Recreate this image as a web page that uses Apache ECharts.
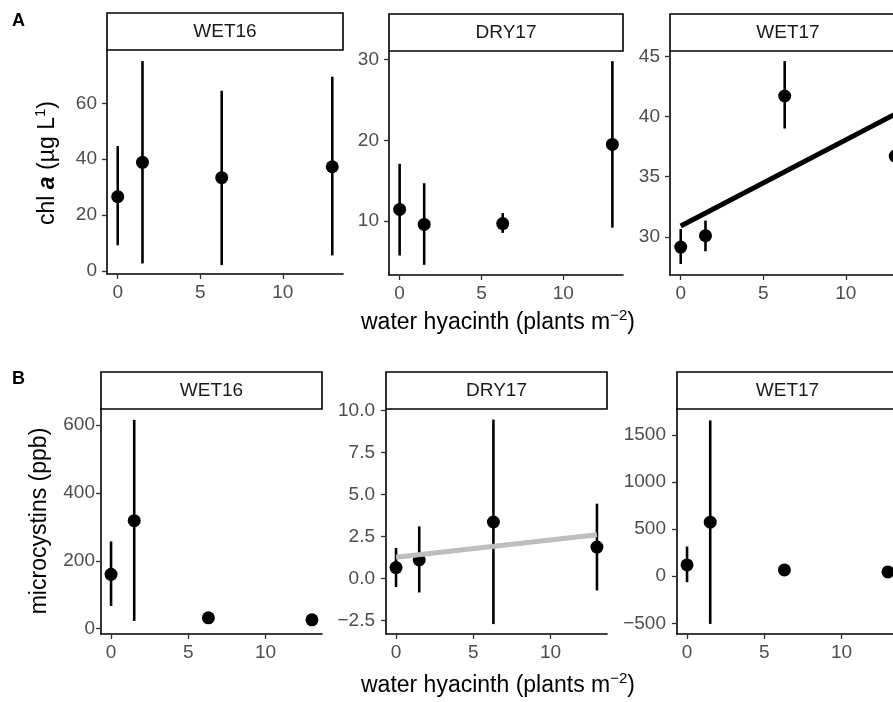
<!DOCTYPE html>
<html>
<head>
<meta charset="utf-8">
<script src="https://cdn.jsdelivr.net/npm/echarts@6/dist/echarts.min.js"></script>
<style>
  html, body { margin: 0; padding: 0; background: #fff; }
  #chart { width: 893px; height: 702px; }
</style>
</head>
<body>
<div id="chart"></div>
<script>
// water hyacinth density (plants m-2)
var xVals = [0, 1.5, 6.3, 13];
var fitX = [0, 13];
var seasons = ['WET16', 'DRY17', 'WET17'];

// A: chl a (ug/L) mean, lower and upper bar ends
var chlWet16Mean = [26.6, 38.9, 33.4, 37.3];
var chlWet16Lo = [9.2, 2.7, 2.1, 5.6];
var chlWet16Hi = [44.7, 75.1, 64.5, 69.5];
var chlDry17Mean = [11.45, 9.6, 9.7, 19.5];
var chlDry17Lo = [5.75, 4.6, 8.55, 9.2];
var chlDry17Hi = [17.1, 14.7, 11.0, 29.8];
var chlWet17Mean = [29.15, 30.1, 41.7, 36.7];
var chlWet17Lo = [27.74, 28.8, 39.0, 30.6];
var chlWet17Hi = [30.64, 31.35, 44.6, 42.8];
var chlWet17Fit = [30.9, 40.2];

// B: microcystins (ppb)
var mcWet16Mean = [160, 318, 32, 26];
var mcWet16Lo = [67, 23, 26, 20];
var mcWet16Hi = [257, 615, 38, 32];
var mcDry17Mean = [0.65, 1.11, 3.36, 1.87];
var mcDry17Lo = [-0.51, -0.83, -2.71, -0.71];
var mcDry17Hi = [1.81, 3.1, 9.45, 4.45];
var mcDry17Fit = [1.27, 2.6];
var mcWet17Mean = [120, 574, 67, 45];
var mcWet17Lo = [-64, -507, 50, 30];
var mcWet17Hi = [315, 1655, 85, 60];

// tick labels
var xTicks = [0, 5, 10];
var yTicksA = [[0, 20, 40, 60], [10, 20, 30], [30, 35, 40, 45]];
var yTicksB = [[0, 200, 400, 600], [-2.5, 0, 2.5, 5, 7.5, 10], [-500, 0, 500, 1000, 1500]];

var FONT = "'Liberation Sans', Arial, Helvetica, sans-serif";

var panels = [
  { left: 107, top: 50, width: 236, height: 224, ymin: -1.07, ymax: 79.07, ticks: yTicksA[0], mean: chlWet16Mean, lo: chlWet16Lo, hi: chlWet16Hi, margin: 10 },
  { left: 389, top: 51, width: 234, height: 224, ymin: 3.34, ymax: 31.06, ticks: yTicksA[1], mean: chlDry17Mean, lo: chlDry17Lo, hi: chlDry17Hi, margin: 10 },
  { left: 670, top: 51, width: 236, height: 224, ymin: 26.83, ymax: 45.44, ticks: yTicksA[2], mean: chlWet17Mean, lo: chlWet17Lo, hi: chlWet17Hi, fit: chlWet17Fit, fitColor: '#000', margin: 10 },
  { left: 101, top: 409, width: 221, height: 225, ymin: -15.6, ymax: 647, ticks: yTicksB[0], mean: mcWet16Mean, lo: mcWet16Lo, hi: mcWet16Hi, margin: 6 },
  { left: 386, top: 409, width: 221, height: 225, ymin: -3.3, ymax: 10.08, ticks: yTicksB[1], mean: mcDry17Mean, lo: mcDry17Lo, hi: mcDry17Hi, fit: mcDry17Fit, fitColor: '#bebebe', margin: 11, dec: 1 },
  { left: 677, top: 409, width: 221, height: 225, ymin: -614, ymax: 1776, ticks: yTicksB[2], mean: mcWet17Mean, lo: mcWet17Lo, hi: mcWet17Hi, margin: 11 }
];

function fmt(dec) {
  return function (v) {
    var s = dec ? Number(v).toFixed(dec) : String(v);
    return s.replace('-', '\u2212');
  };
}

var grids = [], xAxes = [], yAxes = [], series = [], graphics = [];

panels.forEach(function (p, i) {
  grids.push({ left: p.left, top: p.top, width: p.width, height: p.height, outerBoundsMode: 'none' });
  xAxes.push({
    type: 'value', gridIndex: i, min: -0.65, max: 13.65,
    axisLine: { show: true, onZero: false, lineStyle: { color: '#000', width: 1.6 } },
    axisTick: { show: true, length: 5, customValues: xTicks, lineStyle: { color: '#333', width: 1.3 } },
    axisLabel: { customValues: xTicks, color: '#4d4d4d', fontSize: 19, fontFamily: FONT, margin: 9 },
    splitLine: { show: false }
  });
  yAxes.push({
    type: 'value', gridIndex: i, min: p.ymin, max: p.ymax,
    axisLine: { show: true, onZero: false, lineStyle: { color: '#000', width: 1.6 } },
    axisTick: { show: true, length: 5, customValues: p.ticks, lineStyle: { color: '#333', width: 1.3 } },
    axisLabel: { customValues: p.ticks, color: '#4d4d4d', fontSize: 19, fontFamily: FONT, margin: p.margin, formatter: fmt(p.dec) },
    splitLine: { show: false }
  });

  var bars = xVals.map(function (x, k) { return [x, p.lo[k], p.hi[k]]; });
  series.push({
    type: 'custom', xAxisIndex: i, yAxisIndex: i, z: 2,
    data: bars,
    encode: { x: 0, y: [1, 2] },
    renderItem: function (params, api) {
      var a = api.coord([api.value(0), api.value(1)]);
      var b = api.coord([api.value(0), api.value(2)]);
      return { type: 'line', shape: { x1: a[0], y1: a[1], x2: b[0], y2: b[1] }, style: { stroke: '#000', lineWidth: 2.6 } };
    }
  });
  series.push({
    type: 'scatter', xAxisIndex: i, yAxisIndex: i, z: 3,
    symbol: 'circle', symbolSize: 13,
    itemStyle: { color: '#000', opacity: 1 },
    data: xVals.map(function (x, k) { return [x, p.mean[k]]; })
  });
  if (p.fit) {
    series.push({
      type: 'line', xAxisIndex: i, yAxisIndex: i, z: 4,
      showSymbol: false, symbol: 'none',
      lineStyle: { color: p.fitColor, width: 5 },
      data: fitX.map(function (x, k) { return [x, p.fit[k]]; })
    });
  }

  // facet strip
  graphics.push({
    type: 'rect', shape: { x: p.left, y: p.top - 37, width: p.width, height: 37 },
    style: { fill: '#fff', stroke: '#000', lineWidth: 1.6 }
  });
  graphics.push({
    type: 'text', x: p.left + p.width / 2, y: p.top - 18.5,
    style: { text: seasons[i % 3], align: 'center', verticalAlign: 'middle', fontSize: 19, fontFamily: FONT, fill: '#1a1a1a' }
  });
});

// panel letters
graphics.push({ type: 'text', x: 12, y: 12, style: { text: 'A', fontSize: 18, fontWeight: 'bold', fontFamily: FONT, fill: '#000', verticalAlign: 'top' } });
graphics.push({ type: 'text', x: 12, y: 370, style: { text: 'B', fontSize: 18, fontWeight: 'bold', fontFamily: FONT, fill: '#000', verticalAlign: 'top' } });

var supRich = { sup: { fontSize: 15, fontFamily: FONT, fill: '#000', verticalAlign: 'top', lineHeight: 16 } };

// y titles
graphics.push({
  type: 'text', x: 48, y: 163, rotation: Math.PI / 2,
  style: {
    text: 'chl {b|a} (\u00b5g L{sup|1})', align: 'center', verticalAlign: 'middle',
    fontSize: 23, fontFamily: FONT, fill: '#000', lineHeight: 30,
    rich: {
      b: { fontSize: 23, fontFamily: FONT, fontWeight: 'bold', fontStyle: 'italic', fill: '#000', lineHeight: 30 },
      sup: supRich.sup
    }
  }
});
graphics.push({
  type: 'text', x: 40, y: 521, rotation: Math.PI / 2,
  style: { text: 'microcystins (ppb)', align: 'center', verticalAlign: 'middle', fontSize: 23, fontFamily: FONT, fill: '#000' }
});

// x titles
[323, 686].forEach(function (yy) {
  graphics.push({
    type: 'text', x: 498, y: yy,
    style: {
      text: 'water hyacinth (plants m{sup|\u22122})', align: 'center', verticalAlign: 'middle',
      fontSize: 23, fontFamily: FONT, fill: '#000', lineHeight: 30, rich: supRich
    }
  });
});

var chart = echarts.init(document.getElementById('chart'));
chart.setOption({
  animation: false,
  backgroundColor: '#fff',
  grid: grids,
  xAxis: xAxes,
  yAxis: yAxes,
  series: series,
  graphic: graphics
});
</script>
</body>
</html>
